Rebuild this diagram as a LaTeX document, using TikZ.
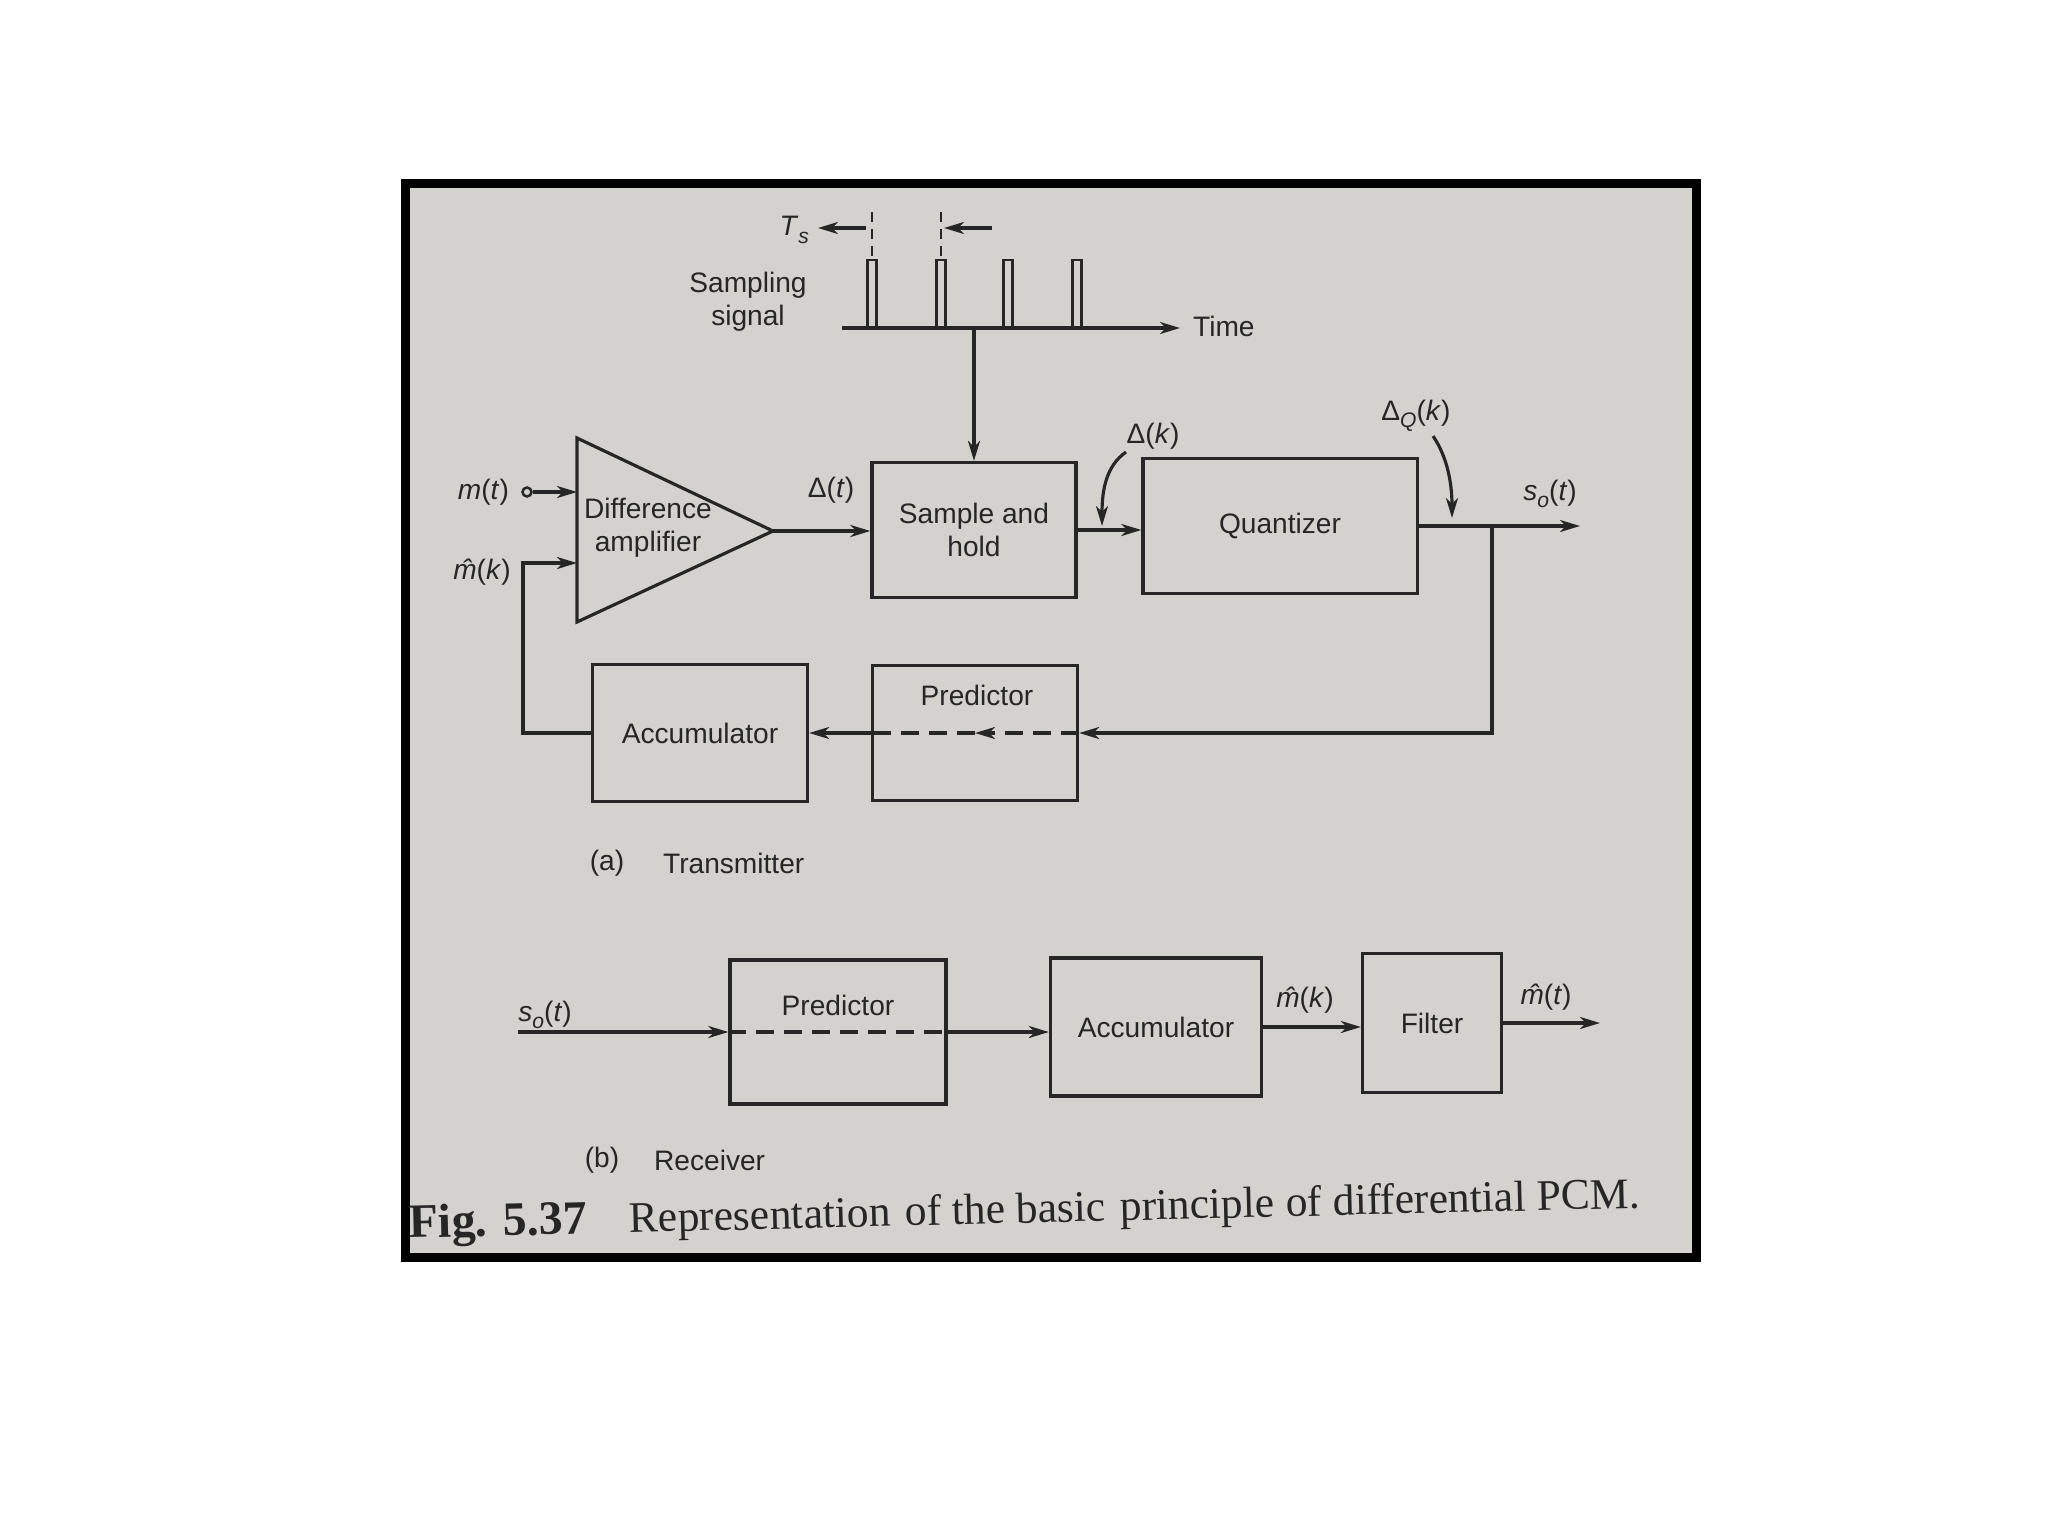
\documentclass[tikz,border=0pt]{standalone}
\usepackage{fontspec}
\setmainfont{Liberation Serif}
\newfontfamily\etichfont{Liberation Sans}
\usetikzlibrary{arrows.meta}
\definecolor{carta}{RGB}{211,210,206}
\definecolor{ink}{RGB}{38,38,38}
\newcommand{\etich}{\etichfont\fontsize{8}{9.5}\selectfont}
\newcommand{\lowidx}[1]{\raisebox{-0.5ex}{\fontsize{6}{7}\selectfont\itshape #1}}
\newcommand{\mhat}{{\itshape\ooalign{m\cr\hidewidth\kern0.12em\char"02C6\hidewidth\cr}}}

\begin{document}
\begin{tikzpicture}[x=0.01cm, y=-0.01cm, line width=0.9pt,
    >={Stealth[length=2mm,width=1.2mm,inset=0.6mm]}]
    \tikzset{blocco/.style={draw=ink, inner sep=0pt, font=\etich, text=ink, align=center},
             etich/.style={font=\etich, text=ink, inner sep=1pt, align=center},
             didasc/.style={text=ink, rotate=1.4, inner sep=0pt, font=\fontsize{12.4}{14}\selectfont},
             freccia/.style={draw=ink, ->},
             linea/.style={draw=ink},
             tratt/.style={draw=ink, dash pattern=on 1.8mm off 1mm}}

    % Sfondo e cornice
    \useasboundingbox (0,0) rectangle (2048,1536);
    \fill[white] (0,0) rectangle (2048,1536);
    \draw[line width=0.09cm, fill=carta] (405,183) rectangle (1696,1257);

    % Segnale di campionamento
    \foreach \px in {872,941,1008,1077}
        \draw[ink, line width=0.7pt] (\px-4.5,328) -- (\px-4.5,260) -- (\px+4.5,260) -- (\px+4.5,328);
    \draw[ink, line width=0.7pt, dash pattern=on 1mm off 0.7mm] (872,212) -- (872,258);
    \draw[ink, line width=0.7pt, dash pattern=on 1mm off 0.7mm] (941,212) -- (941,258);
    \coordinate (tsa) at (866,228);
    \coordinate (tsb) at (818,228);
    \coordinate (tsc) at (992,228);
    \coordinate (tsd) at (944,228);
    \draw[freccia] (tsa) -- (tsb);
    \draw[freccia] (tsc) -- (tsd);
    \node[etich, anchor=east] (ts) at (814,230) {\textit{T}\lowidx{s}};
    \node[etich] (campion) at (748,302) {Sampling\\signal};
    \coordinate (t0) at (842,328);
    \coordinate (t1) at (1180,328);
    \draw[freccia] (t0) -- (t1);
    \node[etich, anchor=west] (tempo) at (1188,326) {Time};

    % Trasmettitore
    \coordinate (ampA) at (577,438);
    \coordinate (ampB) at (577,622);
    \coordinate (ampout) at (773,531);
    \coordinate (ampin1) at (577,492);
    \coordinate (ampin2) at (577,563);
    \draw[linea] (ampA) -- (ampout) -- (ampB) -- cycle;
    \node[etich] (amp) at (648,528) {Difference\\amplifier};

    \node[etich, anchor=east] (mt) at (514,492) {\textit{m}(\textit{t})};
    \node[circle, draw=ink, line width=0.7pt, inner sep=0pt, minimum size=0.09cm, fill=carta] (mtin) at (527,492) {};
    \draw[freccia] (mtin) -- (ampin1);
    \node[etich] (mk) at (482,572) {\mhat(\textit{k})};

    \node[blocco, minimum width=2.04cm, minimum height=1.35cm] (sh) at (974,530) {Sample and\\hold};
    \node[blocco, minimum width=2.74cm, minimum height=1.35cm] (quant) at (1280,526) {Quantizer};
    \node[blocco, minimum width=2.05cm, minimum height=1.35cm] (tpred) at (975,733) {};
    \node[etich] (tpredtxt) at (977,695) {Predictor};
    \node[blocco, minimum width=2.15cm, minimum height=1.37cm] (acc) at (700,733) {Accumulator};

    \coordinate (tdrop) at (974,328);
    \draw[freccia] (tdrop) -- (sh.north);
    \draw[freccia] (ampout) -- (ampout -| sh.west);
    \node[etich] (dt) at (831,490) {Δ(\textit{t})};
    \draw[freccia] (sh.east) -- (sh.east -| quant.west);

    \node[etich] (dk) at (1153,436) {Δ(\textit{k})};
    \coordinate (dkfrom) at (1126,452);
    \coordinate (dkto) at (1102,526);
    \draw[freccia] (dkfrom) .. controls (1106,466) and (1102,490) .. (dkto);

    \coordinate (sout) at (1580,526);
    \draw[freccia] (quant.east) -- (sout);
    \node[etich] (so) at (1550,494) {\textit{s}\lowidx{o}(\textit{t})};
    \node[etich] (dqk) at (1416,416) {Δ\lowidx{Q}(\textit{k})};
    \coordinate (dqfrom) at (1433,436);
    \coordinate (dqto) at (1452,518);
    \draw[freccia] (dqfrom) .. controls (1448,458) and (1452,485) .. (dqto);

    % Anello di retroazione
    \coordinate (ramo) at (1492,526);
    \draw[freccia] (ramo) |- (tpred.east);
    \draw[tratt, ->] (tpred.east) -- (tpred.center);
    \draw[tratt] (tpred.center) -- (tpred.west);
    \draw[freccia] (tpred.west) -- (acc.east);
    \coordinate (fbk) at (523,563);
    \draw[freccia] (acc.west) -| (fbk) -- (ampin2);

    \node[etich] (capa) at (607,863) {(a)};
    \node[etich, anchor=west] (captx) at (658,863) {Transmitter};

    % Ricevitore
    \node[blocco, minimum width=2.16cm, minimum height=1.44cm] (rpred) at (838,1032) {};
    \node[etich] (rpredtxt) at (838,1005) {Predictor};
    \node[blocco, minimum width=2.11cm, minimum height=1.38cm] (racc) at (1156,1027) {Accumulator};
    \node[blocco, minimum width=1.39cm, minimum height=1.39cm] (rfilt) at (1432,1023) {Filter};

    \coordinate (rin) at (518,1032);
    \coordinate (rout) at (1600,1023);
    \draw[freccia] (rin) -- (rpred.west);
    \draw[tratt] (rpred.west) -- (rpred.east);
    \draw[freccia] (rpred.east) -- (rpred.east -| racc.west);
    \draw[freccia] (racc.east) -- (racc.east -| rfilt.west);
    \draw[freccia] (rfilt.east) -- (rout);
    \node[etich] (rso) at (545,1015) {\textit{s}\lowidx{o}(\textit{t})};
    \node[etich] (rmk) at (1305,1000) {\mhat(\textit{k})};
    \node[etich] (rmt) at (1546,997) {\mhat(\textit{t})};

    \node[etich] (capb) at (602,1160) {(b)};
    \node[etich, anchor=west] (caprx) at (649,1160) {Receiver};

    % Didascalia
    \coordinate (capo) at (408,1238);
    \node[didasc, anchor=base west] (fig) at (capo) {\fontsize{13.6}{15}\selectfont\bfseries Fig. 5.37};
    \node[didasc, anchor=base west] (did1) at (fig.base east) {\hspace{0.39cm}Representation};
    \node[didasc, anchor=base west] (did2) at (did1.base east) {\ of the basic};
    \node[didasc, anchor=base west] (did3) at (did2.base east) {\ principle of differential PCM.};
\end{tikzpicture}
\end{document}
